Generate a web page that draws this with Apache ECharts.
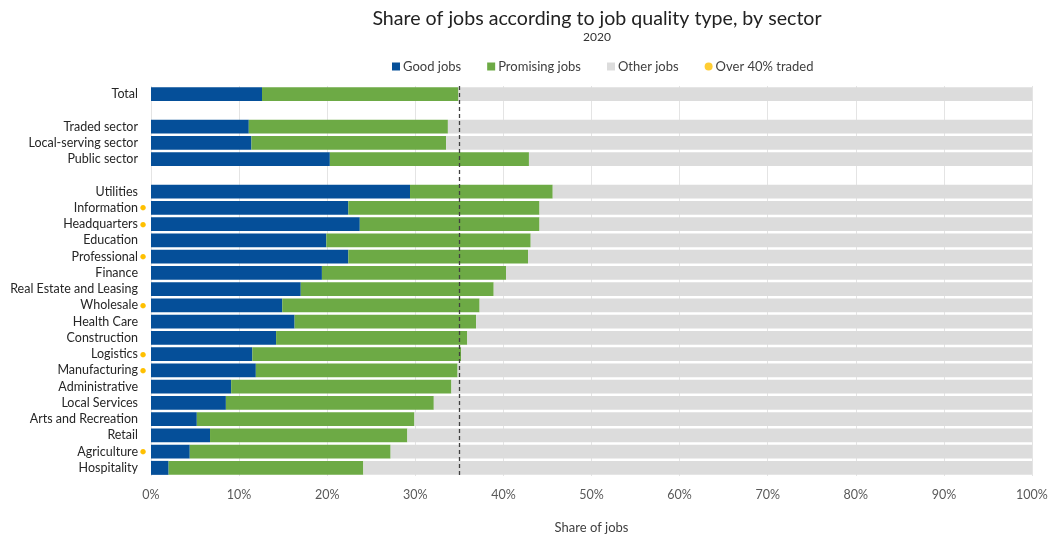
<!DOCTYPE html>
<html>
<head>
<meta charset="utf-8">
<script src="https://cdn.jsdelivr.net/npm/echarts@6/dist/echarts.min.js"></script>
<style>html,body{margin:0;padding:0;background:#fff}#c{width:1052px;height:539px}</style>
</head>
<body>
<div id="c"></div>
<script>
const categories = ['Total',' ','Traded sector','Local-serving sector','Public sector','  ','Utilities','Information','Headquarters','Education','Professional','Finance','Real Estate and Leasing','Wholesale','Health Care','Construction','Logistics','Manufacturing','Administrative','Local Services','Arts and Recreation','Retail','Agriculture','Hospitality'];
const goodJobs = [12.6,null,11.1,11.4,20.3,null,29.4,22.4,23.7,19.9,22.4,19.4,17.0,14.9,16.3,14.2,11.5,11.9,9.1,8.5,5.2,6.7,4.4,2.0];
const promisingJobs = [22.3,null,22.6,22.1,22.6,null,16.2,21.7,20.4,23.2,20.4,20.9,21.9,22.4,20.6,21.7,23.7,22.9,25.0,23.6,24.7,22.4,22.8,22.1];
const otherJobs = [65.1,null,66.3,66.5,57.1,null,54.4,55.9,55.9,56.9,57.2,59.7,61.1,62.7,63.1,64.1,64.8,65.2,65.9,67.9,70.1,70.9,72.8,75.9];
const traded = [0,0,0,0,0,0,0,1,1,0,1,0,0,1,0,0,1,1,0,0,0,0,1,0];
const xTicks = [0,10,20,30,40,50,60,70,80,90,100];
const referenceLine = 35;

const chart = echarts.init(document.getElementById('c'));
const font = 'Lato';
chart.setOption({
  animation: false,
  textStyle: {fontFamily: font},
  title: {
    text: 'Share of jobs according to job quality type, by sector',
    subtext: '2020',
    left: 592, textAlign: 'center', top: 4, itemGap: 2,
    textStyle: {fontFamily: font, fontSize: 19.6, fontWeight: 'normal', color: '#222'},
    subtextStyle: {fontFamily: font, fontSize: 12, color: '#333'}
  },
  legend: {
    left: 387, top: 55, itemWidth: 8, itemHeight: 8, itemGap: 26,
    textStyle: {fontFamily: font, fontSize: 13, color: '#404040', padding: [0,0,0,-2]},
    data: [
      {name: 'Good jobs', icon: 'rect'},
      {name: 'Promising jobs', icon: 'rect'},
      {name: 'Other jobs', icon: 'rect'},
      {name: 'Over 40% traded', icon: 'circle'}
    ]
  },
  grid: {left: 151, right: 20, top: 86, bottom: 57, containLabel: false},
  xAxis: {
    type: 'value', min: 0, max: 100, interval: 10,
    axisLine: {show: false}, axisTick: {show: false},
    splitLine: {show: true, lineStyle: {color: '#e4e4e4', width: 1}},
    axisLabel: {formatter: v => xTicks.includes(v) ? v + '%' : '', fontFamily: font, fontSize: 12.5, color: '#595959', margin: 12},
    name: 'Share of jobs', nameLocation: 'middle', nameGap: 45,
    nameTextStyle: {fontFamily: font, fontSize: 13, color: '#404040'}
  },
  yAxis: {
    type: 'category', inverse: true, data: categories,
    axisLine: {show: false}, axisTick: {show: false}, splitLine: {show: false},
    axisLabel: {
      margin: 3, interval: 0,
      formatter: (v, i) => v.trim() === '' ? '' : '{t|' + v + '}' + (traded[i] ? '{d|●}' : '{e| }'),
      rich: {
        t: {fontFamily: font, fontSize: 12.5, color: '#262626'},
        d: {width: 10, align: 'center', fontSize: 11, color: '#FFC000'},
        e: {width: 10, fontSize: 9}
      }
    }
  },
  series: [
    {name: 'Good jobs', type: 'bar', stack: 's', barCategoryGap: '14%', data: goodJobs, itemStyle: {color: '#054F99'},
      markLine: {silent: true, symbol: 'none', label: {show: false},
        lineStyle: {type: [4,3], color: '#404040', width: 1.3},
        data: [{xAxis: referenceLine}]}},
    {name: 'Promising jobs', type: 'bar', stack: 's', data: promisingJobs, itemStyle: {color: '#6DAA45'}},
    {name: 'Other jobs', type: 'bar', stack: 's', data: otherJobs, itemStyle: {color: '#DCDCDC'}},
    {name: 'Over 40% traded', type: 'scatter', data: [], itemStyle: {color: '#FFC000'}}
  ]
});
</script>
</body>
</html>
